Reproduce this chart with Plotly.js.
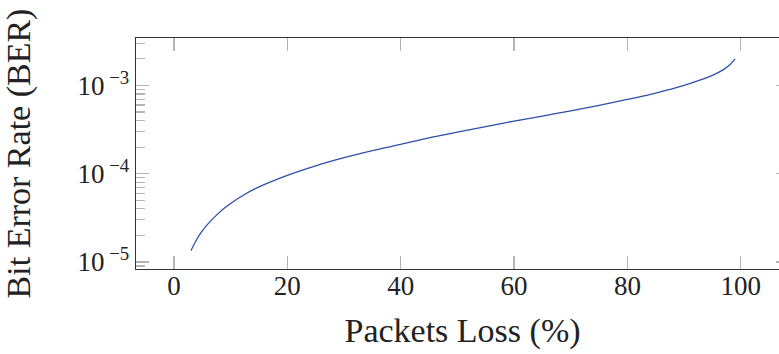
<!DOCTYPE html>
<html>
<head>
<meta charset="utf-8">
<script src="https://cdn.plot.ly/plotly-3.0.1.min.js"></script>
<style>
html,body{margin:0;padding:0;overflow:hidden;background:#fff;width:779px;height:354px;}
#chart{width:790px;height:354px;}
</style>
</head>
<body>
<div id="chart"></div>
<script>
// Packet loss (%)
const packetLoss = [3, 4, 5, 6, 8, 10, 12, 15, 20, 25, 30, 35, 40, 45, 50, 55, 60, 65, 70, 75, 80, 85, 90, 93, 95, 97, 98, 99];
// Bit error rate
const ber = [1.35e-5, 1.80e-5, 2.25e-5, 2.70e-5, 3.65e-5, 4.6e-5, 5.6e-5, 7.1e-5, 9.6e-5, 1.23e-4, 1.52e-4, 1.83e-4, 2.15e-4, 2.55e-4, 2.95e-4, 3.42e-4, 3.95e-4, 4.5e-4, 5.15e-4, 5.95e-4, 6.95e-4, 8.2e-4, 1.0e-3, 1.16e-3, 1.30e-3, 1.52e-3, 1.70e-3, 2.0e-3];

const xTicks = [0, 20, 40, 60, 80, 100];
const yTickVals = [1e-5, 1e-4, 1e-3];
const yTickText = ['10<sup> −5</sup>', '10<sup> −4</sup>', '10<sup> −3</sup>'];
const yMinorVals = [9e-6, 2e-5, 3e-5, 4e-5, 5e-5, 6e-5, 7e-5, 8e-5, 9e-5, 2e-4, 3e-4, 4e-4, 5e-4, 6e-4, 7e-4, 8e-4, 9e-4, 2e-3, 3e-3];

const fontFam = '"Liberation Serif", "DejaVu Serif", serif';

const trace = {
  x: packetLoss,
  y: ber,
  type: 'scatter',
  mode: 'lines',
  line: {color: '#2d4fa8', width: 1.3, shape: 'spline', smoothing: 0.6},
  hoverinfo: 'x+y'
};

const layout = {
  width: 790,
  height: 354,
  margin: {l: 136, r: 1, t: 38, b: 85},
  paper_bgcolor: '#fff',
  plot_bgcolor: '#fff',
  showlegend: false,
  font: {family: fontFam, color: '#222', size: 27},
  xaxis: {
    range: [-6.7, 108.5],
    tickvals: xTicks,
    ticktext: xTicks.map(String),
    ticks: 'inside',
    ticklen: 13,
    tickwidth: 1.3,
    tickcolor: '#b4b4b4',
    ticklabelstandoff: -8,
    showline: true,
    linecolor: '#333',
    linewidth: 1.3,
    mirror: 'ticks',
    showgrid: false,
    zeroline: false,
    automargin: false,
    tickfont: {family: fontFam, size: 27, color: '#222'},
    title: {text: 'Packets Loss (%)', font: {family: fontFam, size: 34, color: '#222'}, standoff: 18}
  },
  yaxis: {
    type: 'log',
    range: [-5.079, -2.463],
    tickvals: yTickVals,
    ticktext: yTickText,
    ticks: 'inside',
    ticklen: 13,
    tickwidth: 1.3,
    tickcolor: '#b4b4b4',
    showline: true,
    linecolor: '#333',
    linewidth: 1.3,
    mirror: 'ticks',
    showgrid: false,
    zeroline: false,
    automargin: false,
    tickfont: {family: fontFam, size: 27, color: '#222'},
    minor: {tickvals: yMinorVals, ticks: 'inside', ticklen: 9, tickwidth: 1.2, tickcolor: '#b4b4b4', showgrid: false},
    title: {text: 'Bit Error Rate (BER)', font: {family: fontFam, size: 34, color: '#222'}, standoff: 40}
  }
};

Plotly.newPlot('chart', [trace], layout, {displayModeBar: false, staticPlot: true});
</script>
</body>
</html>
